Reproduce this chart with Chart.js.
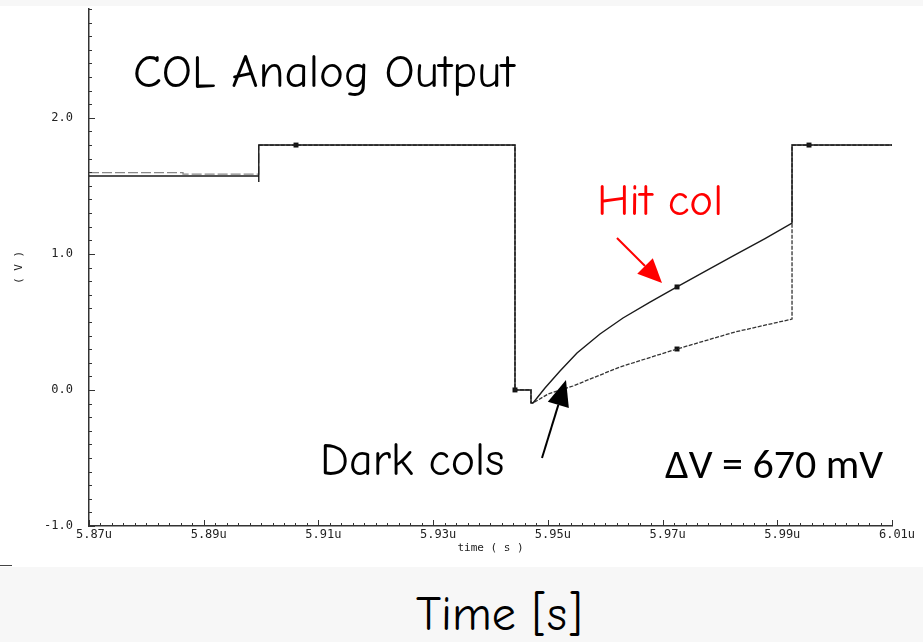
<!DOCTYPE html>
<html>
<head>
<meta charset="utf-8">
<script src="https://cdn.jsdelivr.net/npm/chart.js@4.4.1/dist/chart.umd.min.js"></script>
<style>
  body { margin: 0; width: 923px; height: 642px; background: #f7f7f7; position: relative; overflow: hidden; }
  #sheet { position: absolute; left: 0; top: 6px; width: 923px; height: 561px; background: #fff; }
  #wrap { position: absolute; left: 0; top: 0; width: 923px; height: 567px; }
  .note { position: absolute; line-height: 1; white-space: nowrap; font-family: "Comic Sans MS", "Comic Neue", "Noto Sans", sans-serif; color: #000; }
  #edge { position: absolute; left: 0; top: 565px; width: 12px; height: 1px; background: #444; }
</style>
</head>
<body>
<div id="sheet"></div>
<div id="edge"></div>
<div id="wrap"><canvas id="myChart" width="923" height="567"></canvas></div>
<div class="note" style="left:133px; top:49px; font-size:47px;">COL Analog Output</div>
<div class="note" style="left:597px; top:178px; font-size:45px; color:#ff0000;">Hit col</div>
<div class="note" style="left:320px; top:438px; font-size:46px;">Dark cols</div>
<div class="note" style="left:665px; top:443px; font-size:42px; font-family:'Carlito','Noto Sans',sans-serif;">ΔV = 670 mV</div>
<div class="note" style="left:416px; top:591px; font-size:48px;">Time [s]</div>
<script>
// time in microseconds, voltage in V
const hitTime = [5.87, 5.8996, 5.8996, 5.8996, 5.94427, 5.94427, 5.94706, 5.94706, 5.94741, 5.9495, 5.95212, 5.95508, 5.95909, 5.9631, 5.96781, 5.97252, 5.9774, 5.98263, 5.98786, 5.99257, 5.99257, 6.01];
const hitVolt = [1.573, 1.573, 1.528, 1.80, 1.80, 0.0, 0.0, -0.095, -0.096, 0.014, 0.139, 0.272, 0.411, 0.529, 0.646, 0.757, 0.871, 0.992, 1.113, 1.227, 1.80, 1.80];

const darkTime = [5.87, 5.88639, 5.88639, 5.8996, 5.8996, 5.94427, 5.94427, 5.94706, 5.94706, 5.94741, 5.95003, 5.95438, 5.96258, 5.97252, 5.98263, 5.99257, 5.99257, 6.01];
const darkVolt = [1.597, 1.597, 1.587, 1.587, 1.80, 1.80, 0.0, 0.0, -0.095, -0.096, -0.030, 0.029, 0.169, 0.301, 0.426, 0.521, 1.80, 1.80];

const markTime = [5.90609, 5.94427, 5.97252, 5.97252, 5.99553];
const markVolt = [1.80, 0.0, 0.757, 0.301, 1.80];

const xMin = 5.87, xMax = 6.01, xStep = 0.002;
const yMin = -1.0, yMax = 2.8, yStep = 0.1;

const toPts = (ts, vs) => ts.map((t, i) => ({x: t, y: vs[i]}));

// tick marks pointing into the plot, long on labelled ticks
const innerTicks = {
  id: 'innerTicks',
  afterDatasetsDraw(chart) {
    const {ctx, chartArea, scales: {x, y}} = chart;
    ctx.save();
    ctx.strokeStyle = '#333';
    ctx.lineWidth = 1;
    x.ticks.forEach(t => {
      const px = Math.round(x.getPixelForValue(t.value)) + 0.5;
      const len = t.label !== '' ? 6 : 3;
      ctx.beginPath();
      ctx.moveTo(px, chartArea.bottom);
      ctx.lineTo(px, chartArea.bottom - len);
      ctx.stroke();
    });
    y.ticks.forEach(t => {
      const py = Math.round(y.getPixelForValue(t.value)) + 0.5;
      const len = t.label !== '' ? 6 : 3;
      ctx.beginPath();
      ctx.moveTo(chartArea.left, py);
      ctx.lineTo(chartArea.left + len, py);
      ctx.stroke();
    });
    ctx.restore();
  }
};

// callout arrows, placed in data coordinates
const arrows = {
  id: 'arrows',
  afterDraw(chart) {
    const {ctx, scales: {x, y}} = chart;
    const list = [
      {from: [5.96205, 1.117], to: [5.9699, 0.786], color: '#ff0000', head: 24, w: 11, lw: 2},
      {from: [5.94898, -0.50], to: [5.95316, 0.073], color: '#000', head: 26, w: 11, lw: 2}
    ];
    list.forEach(a => {
      const x0 = x.getPixelForValue(a.from[0]), y0 = y.getPixelForValue(a.from[1]);
      const x1 = x.getPixelForValue(a.to[0]), y1 = y.getPixelForValue(a.to[1]);
      const ang = Math.atan2(y1 - y0, x1 - x0);
      const bx = x1 - a.head * Math.cos(ang), by = y1 - a.head * Math.sin(ang);
      ctx.save();
      ctx.strokeStyle = a.color;
      ctx.fillStyle = a.color;
      ctx.lineWidth = a.lw;
      ctx.beginPath();
      ctx.moveTo(x0, y0);
      ctx.lineTo(bx, by);
      ctx.stroke();
      ctx.beginPath();
      ctx.moveTo(x1, y1);
      ctx.lineTo(bx + a.w * Math.sin(ang), by - a.w * Math.cos(ang));
      ctx.lineTo(bx - a.w * Math.sin(ang), by + a.w * Math.cos(ang));
      ctx.closePath();
      ctx.fill();
      ctx.restore();
    });
  }
};

const ctx = document.getElementById('myChart');

new Chart(ctx, {
  type: 'line',
  data: {
    datasets: [{
      label: 'Hit col',
      data: toPts(hitTime, hitVolt),
      borderColor: '#1a1a1a',
      borderWidth: 1.4,
      pointRadius: 0,
      tension: 0
    }, {
      label: 'Dark cols',
      data: toPts(darkTime, darkVolt),
      borderColor: '#333',
      borderWidth: 1.3,
      borderDash: [4, 1.5],
      segment: {
        // the early flat part is drawn with long grey dashes
        borderDash: c => c.p1.parsed.x <= 5.8996 ? [10, 3] : undefined,
        borderColor: c => c.p1.parsed.x <= 5.8996 ? '#888' : undefined
      },
      pointRadius: 0,
      tension: 0
    }, {
      label: 'markers',
      data: toPts(markTime, markVolt),
      showLine: false,
      pointStyle: 'rect',
      pointRadius: 3.5,
      backgroundColor: '#111',
      borderColor: '#111',
      borderWidth: 0
    }]
  },
  options: {
    responsive: false,
    animation: false,
    events: [],
    layout: { padding: { top: 9, right: 31, left: 0, bottom: 0 } },
    plugins: { legend: { display: false }, tooltip: { enabled: false } },
    scales: {
      x: {
        type: 'linear',
        min: xMin,
        max: xMax,
        afterFit(s) { s.height = 41; s.paddingLeft = 0; s.paddingRight = 0; },
        grid: { display: false, drawTicks: false },
        border: { color: '#333', width: 1.5 },
        ticks: {
          stepSize: xStep,
          maxTicksLimit: 1000,
          autoSkip: false,
          maxRotation: 0,
          padding: 2,
          labelOffset: 5,
          color: '#222',
          font: { family: 'DejaVu Sans Mono', size: 12 },
          callback(v) {
            const k = Math.round((v - xMin) / xStep);
            return k % 10 === 0 ? (xMin + k * xStep).toFixed(2) + 'u' : '';
          }
        },
        title: {
          display: true,
          text: 'time ( s )',
          color: '#222',
          font: { family: 'DejaVu Sans Mono', size: 11 },
          padding: { top: 0, bottom: 12 }
        }
      },
      y: {
        min: yMin,
        max: yMax,
        afterFit(s) { s.width = 89; s.paddingTop = 0; s.paddingBottom = 0; },
        grid: { display: false, drawTicks: false },
        border: { color: '#333', width: 1.5 },
        ticks: {
          stepSize: yStep,
          maxTicksLimit: 1000,
          autoSkip: false,
          padding: 16,
          color: '#222',
          font: { family: 'DejaVu Sans Mono', size: 12 },
          callback(v) {
            return Math.abs(v - Math.round(v)) < 1e-6 ? Math.round(v).toFixed(1) : '';
          }
        },
        title: {
          display: true,
          text: '( V )',
          color: '#222',
          font: { family: 'DejaVu Sans Mono', size: 11 },
          padding: { top: 13, bottom: 0 }
        }
      }
    }
  },
  plugins: [innerTicks, arrows]
});
</script>
</body>
</html>
